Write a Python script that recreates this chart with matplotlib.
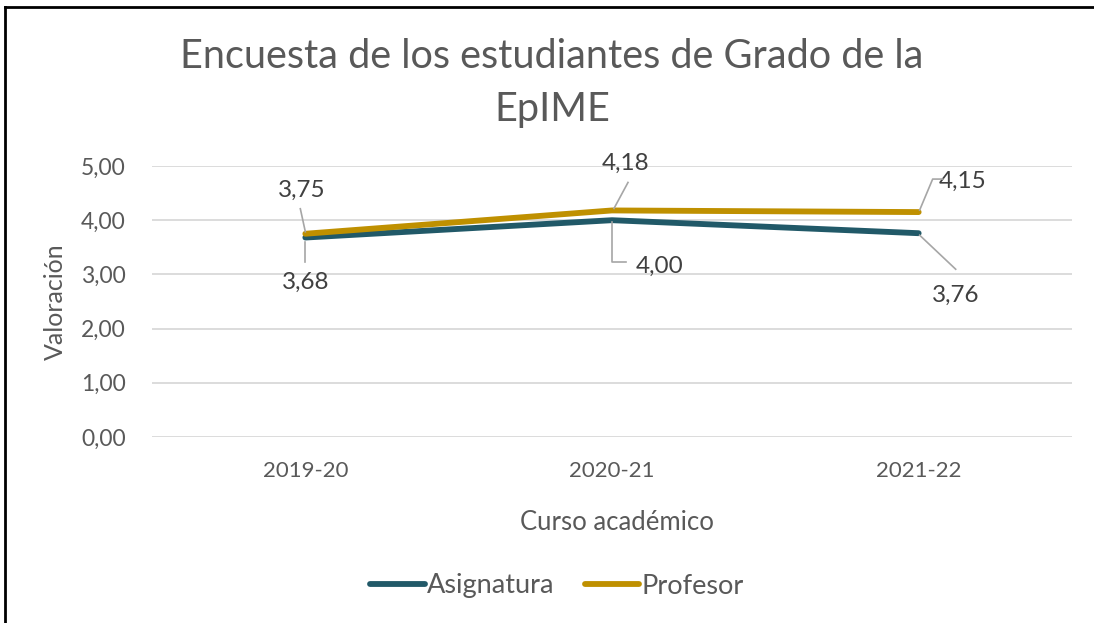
import matplotlib
matplotlib.use("Agg")
import matplotlib.pyplot as plt
from matplotlib.transforms import Affine2D
from matplotlib.lines import Line2D

categories = ["2019-20", "2020-21", "2021-22"]
asignatura = [3.68, 4.00, 3.76]
profesor = [3.75, 4.18, 4.15]
yticks = [0, 1, 2, 3, 4, 5]
ytick_labels = ["0,00", "1,00", "2,00", "3,00", "4,00", "5,00"]
asig_labels = ["3,68", "4,00", "3,76"]
prof_labels = ["3,75", "4,18", "4,15"]

FONT = "Lato"
plt.rcParams["font.family"] = [FONT, "DejaVu Sans"]

C_ASIG = "#215968"
C_PROF = "#BF9000"
TXT = "#595959"
LBL = "#404040"

W, H = 1094, 623
fig = plt.figure(figsize=(W / 100, H / 100), dpi=100)
ax = fig.add_axes([152 / W, (H - 437) / H, 920 / W, 271 / H])

x = list(range(len(categories)))
ax.plot(x, asignatura, color=C_ASIG, lw=4.2, solid_capstyle="round", solid_joinstyle="round", zorder=3, label="Asignatura")
ax.plot(x, profesor, color=C_PROF, lw=4.2, solid_capstyle="round", solid_joinstyle="round", zorder=4, label="Profesor")

ax.set_xlim(-0.5, len(categories) - 0.5)
ax.set_ylim(0, 5)
ax.set_yticks(yticks)
ax.set_yticklabels(ytick_labels)
ax.set_xticks(x)
ax.set_xticklabels(categories)
ax.grid(axis="y", color="#D9D9D9", lw=1.3, zorder=0)
for s in ax.spines.values():
    s.set_visible(False)
ax.tick_params(axis="both", length=0, colors=TXT)
ax.tick_params(axis="y", pad=19, labelsize=16.5)
ax.tick_params(axis="x", pad=17, labelsize=16)
for t in ax.get_xticklabels() + ax.get_yticklabels():
    t.set_color(TXT)

ax.set_ylabel("Valoración", fontsize=18, color=TXT, va="center")
ax.yaxis.set_label_coords(-(152 - 55) / 920, 0.5)
ax.set_xlabel("Curso académico", fontsize=18.5, color=TXT, va="center")
ax.xaxis.set_label_coords((617 - 152) / 920, -(522 - 437) / 271)

fig.text(552 / W, 1 - 57 / H, "Encuesta de los estudiantes de Grado de la", ha="center", va="center",
         fontsize=28.5, color=TXT)
fig.text(552 / W, 1 - 109 / H, "EpIME", ha="center", va="center",
         fontsize=28.5, color=TXT)

# data labels: (series values, labels, text offset px (image coords), leader polyline offsets px)
label_specs = [
    (profesor, prof_labels, [(-4, -43), (14, -47), (44, -31)],
     [[(0, -2), (-5, -25)], [(2, -2), (16, -28)], [(1, -2), (14, -33), (24, -33)]]),
    (asignatura, asig_labels, [(0, 45), (48, 46), (37, 62)],
     [[(0, 4), (0, 24)], [(0, 2), (0, 42), (14, 42)], [(1, 2), (37, 36)]]),
]

fig.canvas.draw()
for vals, labs, offs, leaders in label_specs:
    for i, (v, lab) in enumerate(zip(vals, labs)):
        px, py = ax.transData.transform((i, v))
        dx, dy = offs[i]
        fig.text((px + dx) / W, (py - dy) / H, lab, ha="center", va="center", fontsize=17.5,
                 color=LBL)
        pts = leaders[i]
        line = Line2D([p[0] for p in pts], [-p[1] for p in pts], color="#A6A6A6", lw=1.2,
                      transform=Affine2D().translate(px, py), zorder=5)
        fig.add_artist(line)

leg = fig.legend(loc="center", bbox_to_anchor=(557 / W, 1 - 586 / H), ncol=2, frameon=False,
                 handlelength=2.0, handletextpad=0.1, columnspacing=1.1,
                 prop={"size": 19.5})
for t in leg.get_texts():
    t.set_color(TXT)

# partial outer border (top and left)
fig.add_artist(Line2D([5 / W, 5 / W], [0, 1 - 7 / H], color="black", lw=2, transform=fig.transFigure))
fig.add_artist(Line2D([5 / W, 1], [1 - 7 / H, 1 - 7 / H], color="black", lw=2, transform=fig.transFigure))

fig.savefig("out.png", dpi=100)
